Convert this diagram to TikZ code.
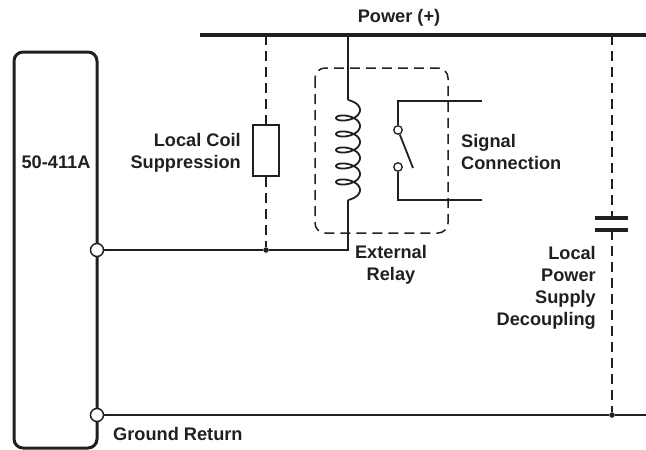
\documentclass[tikz,border=0pt]{standalone}
\usepackage{fontspec}
\setmainfont{Liberation Sans}
\definecolor{ink}{HTML}{231F20}
\tikzset{lbl/.style={font=\bfseries\fontsize{18.2}{22}\selectfont,text=ink,inner sep=0pt},
  term/.style={circle,draw=ink,fill=white,minimum size=13pt,inner sep=0pt,line width=1.5pt},
  jdot/.style={circle,fill=ink,minimum size=5.5pt,inner sep=0pt},
  contact/.style={circle,draw=ink,fill=white,minimum size=8.5pt,inner sep=0pt,line width=1.3pt},
  wire/.style={draw=ink,line width=1.8pt},
  dashline/.style={draw=ink,line width=1.5pt,dash pattern=on 10pt off 6pt},
  heavy/.style={draw=ink,line width=3.4pt}}

\begin{document}
\begin{tikzpicture}[x=1pt,y=-1pt]
      \useasboundingbox (0,0) rectangle (646,450);
      \node[draw=ink,line width=3pt,rounded corners=9pt,minimum width=83pt,minimum height=396pt,inner sep=0pt] (mod) at (55.5,250) {};
      \node[lbl] (modname) at (56,162) {50-411A};

      \coordinate (pwrL) at (200,35);
      \coordinate (pwrR) at (646,35);
      \coordinate (pS) at (266,35);
      \coordinate (pK) at (348,35);
      \coordinate (pC) at (612,35);
      \coordinate (kTop) at (348,100);
      \coordinate (kBot) at (348,200);
      \coordinate (kCorner) at (348,250);
      \coordinate (gndR) at (646,415);
      \coordinate (capTop) at (612,218);
      \coordinate (capBot) at (612,230);
      \coordinate (swTop) at (398,101);
      \coordinate (swBot) at (398,200);
      \coordinate (sigA) at (482,101);
      \coordinate (sigB) at (482,200);
      \coordinate (blade) at (413,168);

      \node[lbl] (pwr) at (399,18) {Power (+)};
      \draw[heavy] (pwrL) -- (pwrR);

      \node[draw=ink,line width=1.6pt,minimum width=26pt,minimum height=51pt,inner sep=0pt] (supp) at (266,150.5) {};
      \node[lbl,align=right,anchor=east] (supplbl) at (241,153) {Local Coil\\Suppression};
      \node[jdot] (jS) at (266,250) {};
      \draw[dashline] (pS) -- (supp.north);
      \draw[dashline] (supp.south) -- (jS);

      \draw[dashline,rounded corners=10pt] (315,68) rectangle (448,233);
      \draw[wire] (pK) -- (kTop);
      \draw[wire] plot[domain=0:1980,samples=260,smooth] ({348+12*sin(\x)},{100+\x/22.5+6*(1-cos(\x))});
      \draw[wire] (kBot) -- (kCorner) -- (jS);

      \node[contact] (cA) at (398,130) {};
      \node[contact] (cB) at (398,167) {};
      \draw[wire] (sigA) -- (swTop) -- (cA);
      \draw[wire] (cB) -- (swBot) -- (sigB);
      \draw[wire] (cA) -- (blade);
      \node[lbl,align=left,anchor=west] (siglbl) at (461,152) {Signal\\Connection};
      \node[lbl,align=center] (relaylbl) at (391,265) {External\\Relay};

      \node[jdot] (jG) at (612,415) {};
      \draw[dashline] (pC) -- (capTop);
      \draw[heavy] (595,218) -- (628,218);
      \draw[heavy] (595,230) -- (628,230);
      \draw[dashline] (capBot) -- (jG);
      \node[lbl,align=right,anchor=east] (caplbl) at (596,288) {Local\\Power\\Supply\\Decoupling};

      \draw[wire] (jS) -- (97,250);
      \draw[wire] (97,415) -- (jG) -- (gndR);
      \node[term] (t1) at (97,250) {};
      \node[term] (t2) at (97,415) {};
      \node[lbl,anchor=west] (gndlbl) at (113,434) {Ground Return};
    \end{tikzpicture}
\end{document}
